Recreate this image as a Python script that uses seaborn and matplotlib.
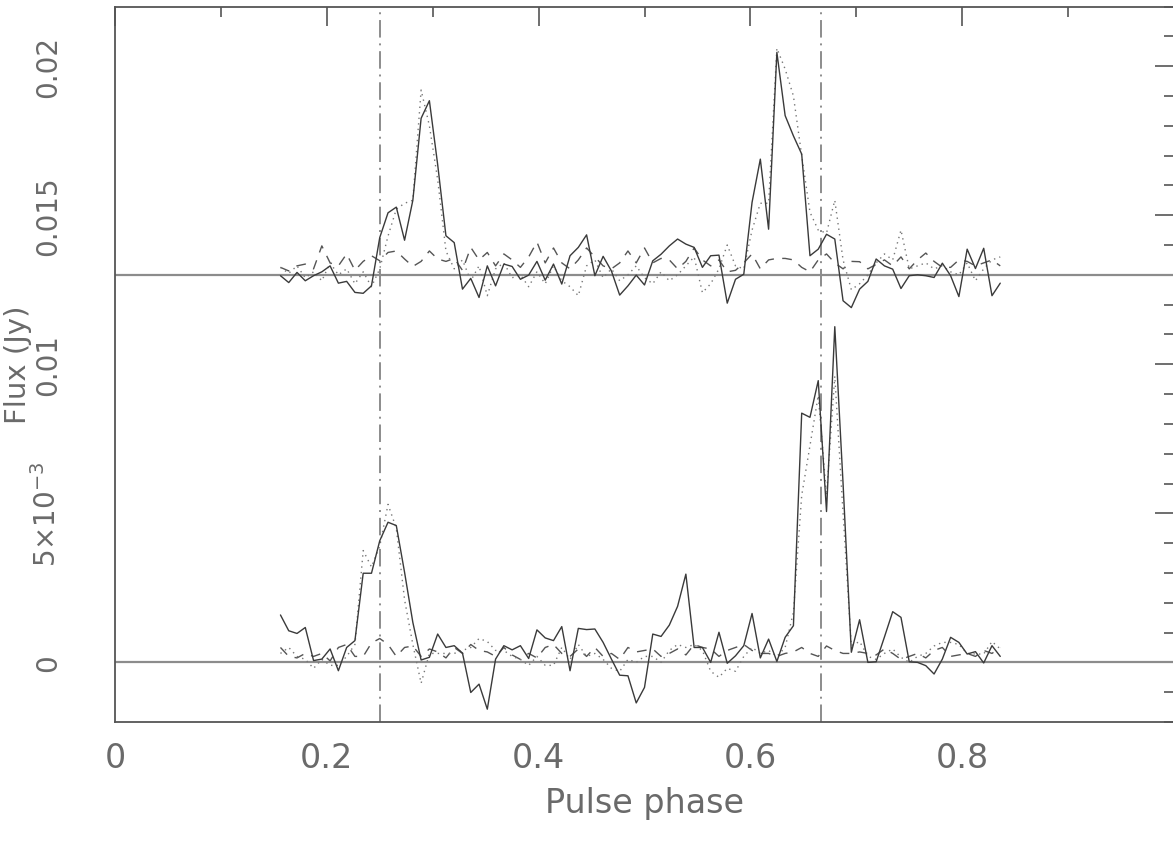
import numpy as np
import pandas as pd
import matplotlib
matplotlib.use("Agg")
import matplotlib.pyplot as plt
import seaborn as sns

# phase bins (1/128 of a turn), bins 20..107
phase = np.arange(20, 108) / 128.0

# flux offsets in mJy
upper_base = 0.013
upper_solid = [-0.03, -0.26, 0.08, -0.20, -0.03, 0.10, 0.30, -0.28, -0.22, -0.59,
               -0.62, -0.37, 1.25, 2.08, 2.27, 1.16, 2.50, 5.25, 5.84, 3.70,
               1.31, 1.08, -0.48, -0.12, -0.76, 0.30, -0.37, 0.36, 0.28, -0.15,
               -0.01, 0.45, -0.18, 0.36, -0.31, 0.64, 0.92, 1.34, -0.03, 0.62,
               0.13, -0.68, -0.37, -0.01, -0.34, 0.47, 0.69, 0.97, 1.20, 1.03,
               0.92, 0.25, 0.64, 0.66, -0.95, -0.15, 0.02, 2.43, 3.88, 1.53,
               7.46, 5.34, 4.66, 4.05, 0.64, 0.86, 1.36, 1.20, -0.87, -1.10,
               -0.48, -0.22, 0.53, 0.30, 0.19, -0.46, -0.03, 0.00, -0.03, -0.09,
               0.39, -0.03, -0.73, 0.86, 0.21, 0.89, -0.70, -0.28]
upper_dotted = [0.25, 0.05, 0.30, -0.10, 0.10, -0.20, 0.40, 0.00, 0.20, -0.30,
                0.10, -0.40, 0.20, 1.30, 2.20, 2.40, 2.50, 6.20, 5.00, 3.20,
                0.80, 0.20, 0.50, -0.20, 0.30, -0.70, 0.20, 0.40, -0.10, 0.00,
                -0.40, 0.10, -0.30, 0.30, -0.20, -0.40, -0.70, 0.30, 0.50, -0.10,
                0.20, -0.20, 0.00, 0.30, -0.10, -0.30, 0.10, -0.20, 0.00, 0.30,
                0.60, -0.60, -0.30, 0.20, 1.00, 0.30, 0.20, 1.50, 2.40, 2.40,
                7.60, 6.90, 6.00, 4.00, 2.10, 1.50, 1.40, 2.50, 0.50, -0.50,
                -0.30, 0.00, 0.40, 0.70, 0.50, 1.50, 0.20, 0.30, 0.40, 0.20,
                0.30, 0.10, 0.00, 0.40, -0.20, 0.20, 0.50, 0.60]
upper_dashed = [0.25, 0.13, 0.30, 0.36, 0.20, 0.97, 0.40, 0.30, 0.70, 0.15,
                0.45, 0.64, 0.47, 0.75, 0.80, 0.53, 0.28, 0.45, 0.80, 0.53,
                0.45, 0.55, 0.15, 0.92, 0.50, 0.75, 0.30, 0.70, 0.50, 0.25,
                0.60, 1.10, 0.40, 0.90, 0.40, 0.20, 0.50, 0.90, 0.60, 0.30,
                0.20, 0.40, 0.80, 0.40, 0.90, 0.40, 0.55, 0.50, 0.20, 0.45,
                0.90, 0.50, 0.30, 0.50, 0.10, 0.15, 0.40, 0.70, 0.20, 0.50,
                0.55, 0.55, 0.50, 0.25, 0.10, 0.50, 0.70, 0.40, 0.20, 0.45,
                0.44, 0.20, 0.35, 0.50, 0.30, 0.60, 0.20, 0.50, 0.73, 0.45,
                0.25, 0.25, 0.50, 0.45, 0.30, 0.40, 0.50, 0.30]

lower_solid = [1.59, 1.06, 0.97, 1.17, 0.06, 0.11, 0.45, -0.28, 0.50, 0.73,
               2.99, 2.99, 4.08, 4.70, 4.59, 3.02, 1.34, 0.08, 0.17, 0.95,
               0.50, 0.56, 0.31, -1.01, -0.73, -1.57, 0.11, 0.56, 0.42, 0.56,
               0.13, 1.09, 0.82, 0.73, 1.20, -0.28, 1.14, 1.10, 1.12, 0.67,
               0.11, -0.43, -0.45, -1.36, -0.84, 0.95, 0.87, 1.25, 1.88, 2.96,
               0.50, 0.50, 0.00, 1.01, -0.03, 0.22, 0.56, 1.64, 0.15, 0.78,
               0.03, 0.84, 1.23, 8.36, 8.22, 9.45, 5.06, 11.26, 6.00, 0.34,
               1.43, 0.00, 0.02, 0.85, 1.70, 1.51, 0.02, 0.00, -0.11, -0.39,
               0.11, 0.84, 0.67, 0.28, 0.36, -0.02, 0.56, 0.20]
lower_dotted = [0.30, 0.50, 0.20, 0.10, -0.20, 0.10, -0.10, -0.10, 0.20, 0.60,
                3.75, 3.20, 3.90, 5.30, 4.50, 2.10, 0.60, -0.70, 0.30, 0.30,
                0.30, 0.30, 0.40, 0.50, 0.80, 0.70, 0.40, 0.40, 0.20, 0.10,
                -0.10, 0.20, -0.10, -0.10, 0.50, 0.10, 0.60, 0.20, 0.30, 0.10,
                -0.20, -0.30, 0.10, 0.00, 0.20, 0.20, 0.00, 0.40, 0.60, 0.50,
                0.60, 0.40, -0.30, -0.50, -0.20, -0.30, 0.20, 0.50, 0.30, 0.40,
                0.20, 0.50, 1.68, 5.60, 7.27, 8.95, 5.60, 9.60, 5.00, 0.56,
                0.70, 0.20, 0.10, 0.30, 0.45, 0.17, 0.00, 0.20, 0.30, 0.55,
                0.67, 0.67, 0.60, 0.30, 0.28, 0.28, 0.70, 0.45]
lower_dashed = [0.50, 0.20, 0.15, 0.30, 0.20, 0.30, 0.05, 0.50, 0.60, 0.20,
                0.20, 0.65, 0.80, 0.60, 0.20, 0.50, 0.55, 0.20, 0.45, 0.35,
                0.15, 0.50, 0.30, 0.60, 0.40, 0.35, 0.20, 0.50, 0.25, 0.10,
                0.30, 0.15, 0.50, 0.60, 0.30, 0.20, 0.45, 0.20, 0.50, 0.20,
                0.30, 0.10, 0.50, 0.35, 0.40, 0.45, 0.20, 0.30, 0.45, 0.25,
                0.60, 0.50, 0.45, 0.20, 0.40, 0.50, 0.60, 0.40, 0.30, 0.30,
                0.20, 0.30, 0.35, 0.50, 0.30, 0.20, 0.55, 0.40, 0.30, 0.30,
                0.35, 0.30, 0.25, 0.45, 0.30, 0.10, 0.20, 0.30, 0.15, 0.40,
                0.50, 0.20, 0.25, 0.30, 0.20, 0.40, 0.30, 0.50]

markers_x = [0.25, 2 / 3]
ytick_vals = [0.0, 0.005, 0.01, 0.015, 0.02]
ytick_labels = ["0", r"5$\times$10$^{-3}$", "0.01", "0.015", "0.02"]
xtick_vals = [0, 0.2, 0.4, 0.6, 0.8]
xtick_labels = ["0", "0.2", "0.4", "0.6", "0.8"]

sns.set_style("white")
plt.rcParams["font.family"] = ["DejaVu Sans"]
plt.rcParams["mathtext.fontset"] = "dejavusans"

txt = "#6a6a6a"
fig = plt.figure(figsize=(11.73, 8.45), dpi=100)
ax = fig.add_axes([115 / 1173, 122 / 845, 1059 / 1173, 715.5 / 845])

# baselines and phase markers
ax.axhline(0.0, color="#8c8c8c", lw=1.6, zorder=1)
ax.axhline(upper_base, color="#8c8c8c", lw=1.6, zorder=1)
for xm in markers_x:
    ax.axvline(xm, color="#8c8c8c", lw=1.4, ls=(0, (9, 3, 1, 3)), zorder=1)

def trace(vals, base, ls, col, lw):
    df = pd.DataFrame({"phase": phase, "flux": base + np.array(vals) * 1e-3})
    sns.lineplot(data=df, x="phase", y="flux", ax=ax, color=col, lw=lw,
                 linestyle=ls, sort=False, estimator=None, zorder=3)

for base, s, d, dd in [(upper_base, upper_solid, upper_dotted, upper_dashed),
                       (0.0, lower_solid, lower_dotted, lower_dashed)]:
    trace(dd, base, (0, (7, 6)), "#555555", 1.0)
    trace(d, base, (0, (1, 3)), "#777777", 1.0)
    trace(s, base, "-", "#3a3a3a", 1.0)

ax.set_xlim(0, 1.0)
ax.set_ylim(-0.002, 0.022)
ax.set_xticks(xtick_vals)
ax.set_xticklabels(xtick_labels)
ax.set_xticks(np.arange(0.1, 1.0, 0.2), minor=True)
ax.set_yticks(ytick_vals)
ax.set_yticklabels(ytick_labels, rotation=90, va="center")
ax.set_yticks([v / 1000 for v in range(-2, 23) if v % 5], minor=True)

ax.tick_params(which="both", direction="in", top=True, right=True,
               color="#555555", width=1.2, labelcolor=txt)
ax.tick_params(axis="x", labelsize=24)
ax.tick_params(axis="y", labelsize=20)
ax.tick_params(which="major", length=14)
ax.tick_params(which="minor", length=7)
ax.tick_params(axis="x", which="major", pad=14)
ax.tick_params(axis="y", which="major", pad=38)
for sp in ax.spines.values():
    sp.set_color("#555555")
    sp.set_linewidth(1.3)

ax.set_xlabel("Pulse phase", fontsize=24, color=txt, labelpad=8)
ax.set_ylabel("Flux (Jy)", fontsize=21, color=txt)
ax.yaxis.set_label_coords(-0.078, 0.5)

fig.savefig("out.png", dpi=100)
